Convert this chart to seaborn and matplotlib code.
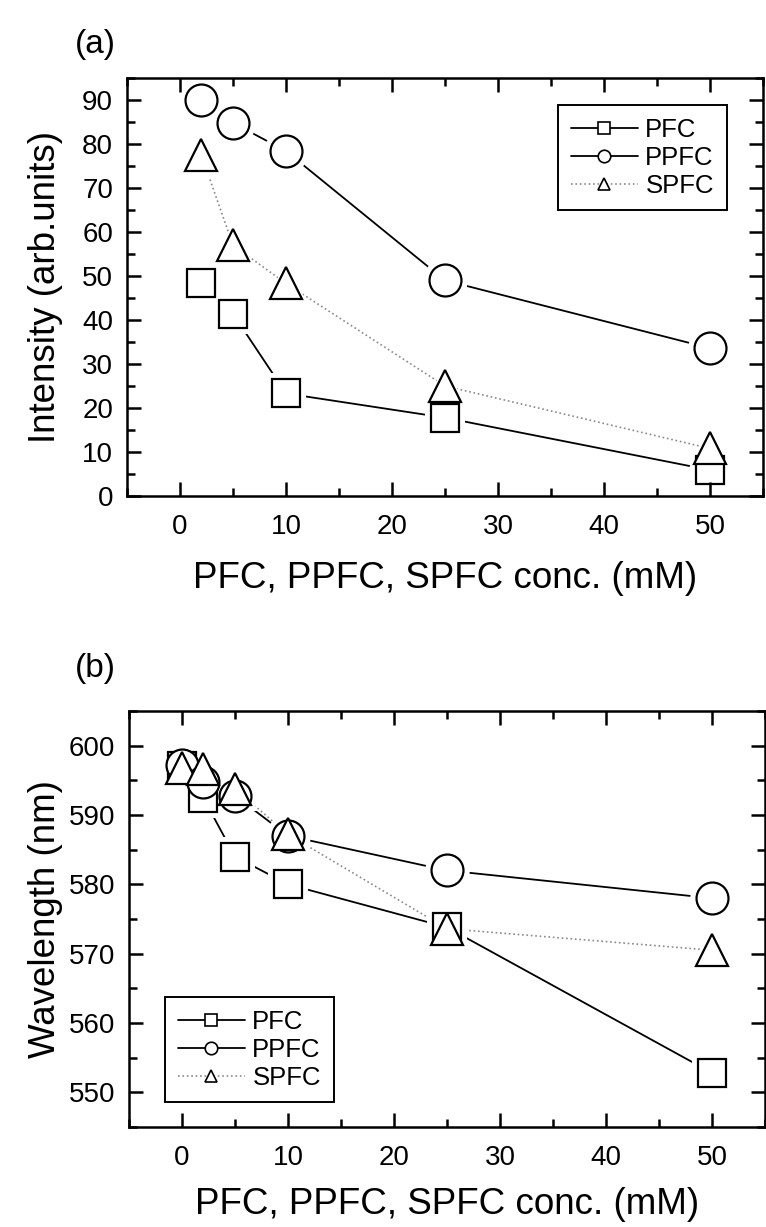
import matplotlib
matplotlib.use('Agg')
import matplotlib.pyplot as plt
import seaborn as sns
import pandas as pd
from matplotlib.lines import Line2D
from matplotlib.ticker import MultipleLocator

sns.set_theme(style='ticks')
plt.rcParams['font.family'] = ['Liberation Sans', 'DejaVu Sans']
plt.rcParams['text.color'] = 'black'
plt.rcParams['axes.labelcolor'] = 'black'
plt.rcParams['xtick.color'] = 'black'
plt.rcParams['ytick.color'] = 'black'

# ---- data ----
series_names = ['PFC', 'PPFC', 'SPFC']

conc_a = [2, 5, 10, 25, 50]
pfc_a = [48.3, 41.4, 23.3, 17.8, 5.9]
ppfc_a = [90.0, 84.8, 78.4, 49.0, 33.6]
spfc_a = [77.6, 57.0, 48.3, 25.0, 10.8]

conc_b = [0, 2, 5, 10, 25, 50]
pfc_b = [597.0, 592.5, 584.0, 580.0, 573.8, 552.8]
ppfc_b = [597.2, 594.8, 592.8, 587.0, 582.0, 578.0]
spfc_b = [596.8, 596.6, 593.8, 587.2, 573.6, 570.5]

W, H = 766, 1227
fig = plt.figure(figsize=(W / 100, H / 100), dpi=100)

def frac(l, t, r, b):
    return [l / W, 1 - b / H, (r - l) / W, (b - t) / H]

box_a = (127, 78, 763, 496)
box_b = (129, 711, 765, 1127)
ax_a = fig.add_axes(frac(*box_a))
ax_b = fig.add_axes(frac(*box_b))

styles = {
    'PFC': dict(marker='s', color='black', linestyle='-', lw=1.3, ms=20),
    'PPFC': dict(marker='o', color='black', linestyle='-', lw=1.3, ms=23),
    'SPFC': dict(marker='^', color='#8a8a8a', linestyle=':', lw=1.2, ms=23),
}

def draw(ax, x, ys):
    for i, (name, y) in enumerate(zip(series_names, ys)):
        st = styles[name]
        df = pd.DataFrame({'x': x, 'y': y})
        # connecting line
        sns.lineplot(data=df, x='x', y='y', ax=ax, color=st['color'],
                     linestyle=st['linestyle'], lw=st['lw'],
                     legend=False, zorder=2)
        # white halo that opens a gap between line and marker
        sns.lineplot(data=df, x='x', y='y', ax=ax, linestyle='none',
                     marker=st['marker'], ms=st['ms'] + 9, mfc='white',
                     mec='white', mew=0, legend=False, zorder=3)
        # marker
        sns.lineplot(data=df, x='x', y='y', ax=ax, linestyle='none',
                     marker=st['marker'], ms=st['ms'], mfc='white',
                     mec='black', mew=1.6, legend=False, zorder=4 + i)

draw(ax_a, conc_a, [pfc_a, ppfc_a, spfc_a])
draw(ax_b, conc_b, [pfc_b, ppfc_b, spfc_b])

def style_axes(ax, box, ylim, ylabel, xlabel, xlab_y):
    ax.set_xlim(-5, 55)
    ax.set_ylim(*ylim)
    ax.xaxis.set_major_locator(MultipleLocator(10))
    ax.xaxis.set_minor_locator(MultipleLocator(5))
    ax.yaxis.set_major_locator(MultipleLocator(10))
    ax.yaxis.set_minor_locator(MultipleLocator(5))
    ax.tick_params(which='both', direction='in', top=True, right=True,
                   width=1.8, colors='black', labelsize=20)
    ax.tick_params(which='major', length=10)
    ax.tick_params(which='minor', length=6)
    ax.tick_params(axis='x', which='major', pad=13)
    ax.tick_params(axis='y', which='major', pad=10)
    for s in ax.spines.values():
        s.set_linewidth(1.8)
        s.set_color('black')
        s.set_zorder(10)
    ax.xaxis.set_zorder(10)
    ax.yaxis.set_zorder(10)
    l, t, r, b = box
    ax.set_xlabel(xlabel, fontsize=26.5, color='black')
    ax.xaxis.label.set_verticalalignment('center')
    ax.xaxis.set_label_coords(0.5, (b - xlab_y) / (b - t))
    ax.set_ylabel(ylabel, fontsize=26.5, color='black')
    ax.yaxis.label.set_verticalalignment('center')
    ax.yaxis.set_label_coords((46 - l) / (r - l), 0.5)

xl = 'PFC, PPFC, SPFC conc. (mM)'
style_axes(ax_a, box_a, (0, 95), 'Intensity (arb.units)', xl, 579)
style_axes(ax_b, box_b, (545, 605), 'Wavelength (nm)', xl, 1205)
ax_a.set_yticks(range(0, 100, 10))
ax_b.set_yticks(range(550, 601, 10))

def legend(ax, x, y):
    handles = []
    for name in series_names:
        st = styles[name]
        handles.append(Line2D([], [], color=st['color'], linestyle=st['linestyle'],
                              lw=st['lw'], marker=st['marker'], ms=9,
                              mfc='white', mec='black', mew=1.2))
    leg = ax.legend(handles, series_names, loc='upper left',
                    bbox_to_anchor=(x / W, 1 - y / H), bbox_transform=fig.transFigure,
                    borderaxespad=0, fontsize=18.5, frameon=True, fancybox=False,
                    handlelength=2.6, handletextpad=0.3, labelspacing=0.15,
                    borderpad=0.5, labelcolor='black')
    leg.set_zorder(20)
    fr = leg.get_frame()
    fr.set_edgecolor('black')
    fr.set_linewidth(1.4)
    fr.set_alpha(1)

legend(ax_a, 558, 105)
legend(ax_b, 165, 997)

fig.text(75 / W, 1 - 45 / H, '(a)', fontsize=24, va='center', ha='left', color='black')
fig.text(75 / W, 1 - 668 / H, '(b)', fontsize=24, va='center', ha='left', color='black')

fig.savefig('out.png', dpi=100)
